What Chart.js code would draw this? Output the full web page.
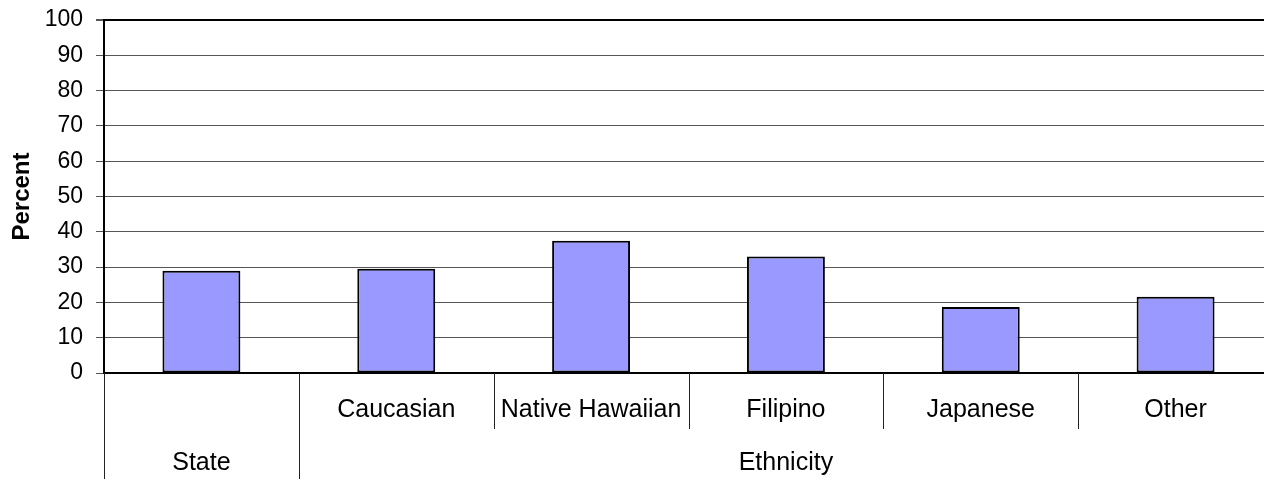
<!DOCTYPE html>
<html>
<head>
<meta charset="utf-8">
<script src="https://cdn.jsdelivr.net/npm/chart.js@4/dist/chart.umd.min.js"></script>
<style>
  html, body { margin: 0; padding: 0; background: #fff; overflow: hidden; }
  #wrap { width: 1273px; height: 479px; }
</style>
</head>
<body>
<div id="wrap"><canvas id="percentChart"></canvas></div>
<script>
// Percent by group - state total, then by ethnicity
const categories = ["State", "Caucasian", "Native Hawaiian", "Filipino", "Japanese", "Other"];
const percentValues = [29, 29.5, 37.5, 33, 18.7, 21.6];
const yTicks = [0, 10, 20, 30, 40, 50, 60, 70, 80, 90, 100];

// second label row: group name and the first/last category it covers
const groupLabels = ["State", "Ethnicity"];
const groupFirst = [0, 1];
const groupLast = [0, 5];

const FONT = "'Liberation Sans', Arial, sans-serif";

// two-row category axis drawn under the plot from the x scale
const groupedAxis = {
  id: "groupedAxis",
  afterDraw(chart) {
    const { ctx, chartArea } = chart;
    const xs = chart.scales.x;
    const step = xs.getPixelForValue(1) - xs.getPixelForValue(0);
    const edge = i => xs.getPixelForValue(i) - step / 2;
    const top = chartArea.bottom;
    const bottom = chart.height;
    const row1 = top + 37;
    const row2 = top + 90;

    ctx.save();
    ctx.strokeStyle = "#222";
    ctx.lineWidth = 1;
    for (let i = 0; i < categories.length; i++) {
      const x = Math.round(edge(i)) + 0.5;
      const full = groupFirst.includes(i);
      ctx.beginPath();
      ctx.moveTo(x, top);
      ctx.lineTo(x, full ? bottom : top + 56);
      ctx.stroke();
    }

    ctx.fillStyle = "#000";
    ctx.textAlign = "center";
    ctx.textBaseline = "middle";
    ctx.font = "25px " + FONT;
    groupLabels.forEach((g, k) => {
      const first = groupFirst[k], last = groupLast[k];
      if (first === last) {
        // single-category group: label sits in the lower row only
        ctx.fillText(g, xs.getPixelForValue(first), row2);
        return;
      }
      for (let i = first; i <= last; i++) {
        ctx.fillText(categories[i], xs.getPixelForValue(i), row1);
      }
      const mid = (edge(first) + edge(last) + step) / 2;
      ctx.fillText(g, mid, row2);
    });
    ctx.restore();
  }
};

new Chart(document.getElementById("percentChart"), {
  type: "bar",
  data: {
    labels: categories,
    datasets: [{
      data: percentValues,
      backgroundColor: "#9999FF",
      borderColor: "#000",
      borderWidth: 2,
      borderSkipped: false,
      barPercentage: 0.4,
      categoryPercentage: 1
    }]
  },
  options: {
    responsive: true,
    maintainAspectRatio: false,
    animation: false,
    layout: { padding: { top: 20, left: 0, right: 0, bottom: 0 } },
    plugins: {
      legend: { display: false },
      tooltip: { enabled: false }
    },
    scales: {
      x: {
        offset: true,
        grid: { display: false },
        border: { display: true, color: "#000", width: 2 },
        ticks: { display: false },
        afterFit: scale => { scale.height = 106; }
      },
      y: {
        min: 0,
        max: 100,
        afterBuildTicks: scale => { scale.ticks = yTicks.map(v => ({ value: v })); },
        ticks: {
          color: "#000",
          padding: 13,
          font: { family: FONT, size: 23 }
        },
        grid: {
          color: c => (c.tick && c.tick.value === 100 ? "#000" : "#555"),
          lineWidth: c => (c.tick && c.tick.value === 100 ? 2 : 1),
          tickColor: "#555",
          tickLength: 8
        },
        border: { color: "#000", width: 2 },
        title: {
          display: true,
          text: "Percent",
          color: "#000",
          padding: { top: 8, bottom: 0 },
          font: { family: FONT, size: 24, weight: "bold" }
        },
        afterFit: scale => {
          scale.width = 104;
          scale.paddingTop = 0;
          scale.paddingBottom = 0;
        }
      }
    }
  },
  plugins: [groupedAxis]
});
</script>
</body>
</html>
